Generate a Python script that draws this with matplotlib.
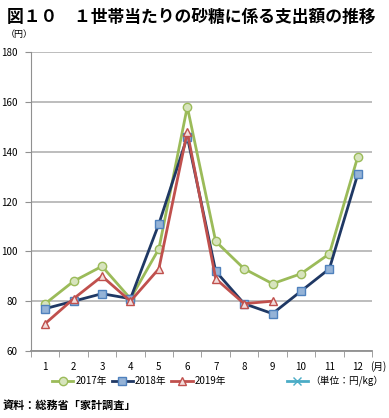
import matplotlib.pyplot as plt
from matplotlib.lines import Line2D

plt.rcParams['font.family'] = ['Noto Sans CJK JP', 'DejaVu Sans']

months = [1, 2, 3, 4, 5, 6, 7, 8, 9, 10, 11, 12]
month_labels = [str(m) for m in months]
y2017 = [79, 88, 94, 81, 101, 158, 104, 93, 87, 91, 99, 138]
y2018 = [77, 80, 83, 81, 111, 146, 92, 79, 75, 84, 93, 131]
y2019 = [71, 81, 90, 80, 93, 148, 89, 79, 80]

fig = plt.figure(figsize=(3.89, 4.18), dpi=100)
ax = fig.add_axes([31/389, 1 - 351/418, 341/389, 299/418])

ax.plot(months, y2017, color='#9BBB59', lw=2, marker='o', ms=6,
        mfc='#D7E4BD', mec='#9BBB59', mew=1, label='2017年')
ax.plot(months, y2018, color='#1F3864', lw=2, marker='s', ms=6,
        mfc='#95B3D7', mec='#4F81BD', mew=1, label='2018年')
ax.plot(months[:len(y2019)], y2019, color='#C0504D', lw=2, marker='^', ms=6,
        mfc='#F2DCDB', mec='#C0504D', mew=1, label='2019年')

ax.set_xlim(0.5, 12.5)
ax.set_ylim(60, 180)
ax.set_yticks(range(60, 181, 20))
ax.yaxis.grid(True, color='#B8B8B8', lw=1.3)
ax.set_axisbelow(True)
ax.set_xticks(months)
ax.set_xticklabels(month_labels)
ax.set_xticks([m + 0.5 for m in range(0, 13)], minor=True)
ax.tick_params(axis='x', which='major', length=0, labelsize=7, pad=8)
ax.tick_params(axis='x', which='minor', length=4, color='#909090', direction='out')
ax.tick_params(axis='y', length=4, color='#909090', labelsize=7, pad=6)
for s in ['top', 'right']:
    ax.spines[s].set_visible(False)
ax.spines['left'].set_color('#909090')
ax.spines['bottom'].set_color('#909090')
ax.spines['bottom'].set_linewidth(1.3)

fig.text(7/389, 1 - 17/418, '図１０　１世帯当たりの砂糖に係る支出額の推移',
         fontsize=12.1, fontweight='bold', va='center', ha='left')
fig.text(6/389, 1 - 35/418, '（円）', fontsize=6.5, va='center', ha='left')
fig.text(370/389, 1 - 367/418, '(月)', fontsize=7, va='center', ha='left')

handles, labels = ax.get_legend_handles_labels()
fig.legend(handles, labels, loc='center', bbox_to_anchor=(139/389, 1 - 381/418),
           ncol=3, frameon=False, fontsize=7, handlelength=2.2,
           handletextpad=0.2, columnspacing=0.5)
unit = Line2D([], [], color='#4BACC6', lw=2, marker='x', ms=6, mew=1)
fig.legend([unit], ['（単位：円/kg）'], loc='center', bbox_to_anchor=(335/389, 1 - 381/418),
           frameon=False, fontsize=7, handlelength=2.2, handletextpad=0.2)
fig.text(3/389, 1 - 405/418, '資料：総務省「家計調査」', fontsize=8, fontweight='bold',
         va='center', ha='left')

fig.savefig('out.png', dpi=100)
